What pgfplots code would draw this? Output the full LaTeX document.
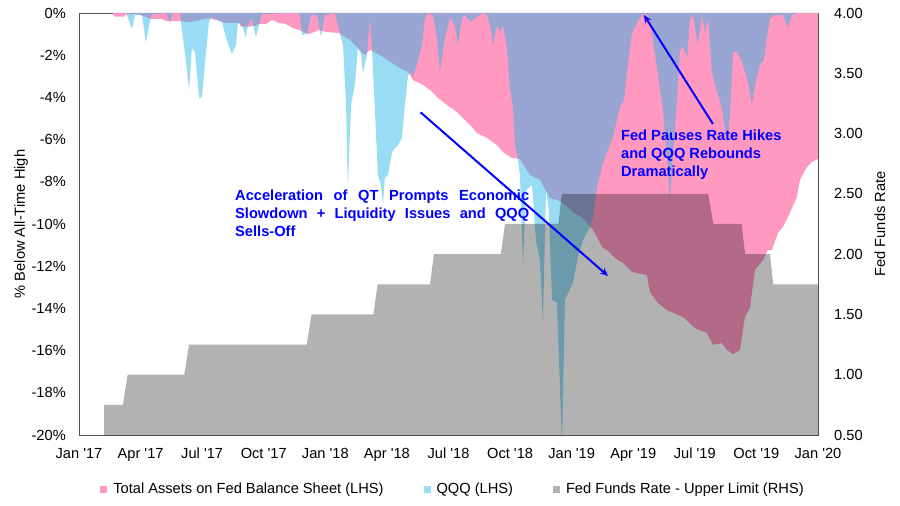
\documentclass[border=0pt]{standalone}
\usepackage{fontspec}
\setmainfont{Liberation Sans}
\usepackage{pgfplots}
\pgfplotsset{compat=1.18}
\usetikzlibrary{arrows.meta}
\definecolor{pinkc}{RGB}{255,153,192}
\definecolor{qqqc}{RGB}{29,180,233}
\definecolor{annot}{RGB}{0,0,255}
\definecolor{axc}{RGB}{80,80,80}
\newcommand{\fs}{\fontsize{14.7}{18}\selectfont}
\begin{document}
\begin{tikzpicture}
\useasboundingbox (-79bp,-71bp) rectangle (821bp,435bp);
\pgfplotsset{
  base/.style={scale only axis, width=739bp, height=422bp, at={(0,0)}, anchor=south west,
    xmin=0, xmax=36, font=\fs, tick label style={font=\fs}, label style={font=\fs},
    major tick length=0pt, axis line style={axc, line width=0.8bp},
    /pgf/number format/assume math mode=true,
    legend image code/.code={\fill[##1] (0bp,-3.5bp) rectangle (7bp,3.5bp);}},
}
\begin{axis}[base, ymin=-20, ymax=0,
  ytick={-20,-18,...,0},
  yticklabels={-20\%,-18\%,-16\%,-14\%,-12\%,-10\%,-8\%,-6\%,-4\%,-2\%,0\%},
  xtick={0,3,...,36},
  xticklabels={Jan \textquotesingle17,Apr \textquotesingle17,Jul \textquotesingle17,Oct \textquotesingle17,Jan \textquotesingle18,Apr \textquotesingle18,Jul \textquotesingle18,Oct \textquotesingle18,Jan \textquotesingle19,Apr \textquotesingle19,Jul \textquotesingle19,Oct \textquotesingle19,Jan \textquotesingle20},
  xticklabel style={inner sep=0pt, yshift=-13bp, anchor=north},
  yticklabel style={inner sep=0pt, xshift=-13bp, anchor=east},
  ytick pos=left, xtick pos=bottom,
  ylabel={\% Below All-Time High},
  ylabel style={at={(axis description cs:-0.0785,0.5)}, anchor=center},
]
\addplot[fill=pinkc, draw=none] coordinates {
(1.66,0)(1.70,-0.17)(2.19,-0.17)(2.29,-0.06)(2.92,-0.06)(3.51,-0.28)(4.04,-0.28)(4.24,-0.38)(4.87,-0.38)(5.41,-0.43)(5.89,-0.33)(6.33,-0.24)(6.67,-0.33)(7.16,-0.47)(7.79,-0.47)(7.89,-0.65)(8.28,-0.65)(8.62,-0.60)(8.77,-0.52)(9.11,-0.52)(9.40,-0.33)(9.74,-0.47)(10.08,-0.52)(10.38,-0.70)(10.72,-0.81)(11.20,-1.00)(11.69,-0.81)(12.03,-0.90)(12.66,-0.95)(13.20,-1.28)(13.59,-1.66)(13.93,-1.99)(14.17,-1.75)(14.66,-1.99)(15.15,-2.32)(15.64,-2.61)(16.03,-2.80)(16.27,-3.18)(16.76,-3.41)(17.10,-3.65)(17.44,-3.98)(17.92,-4.36)(18.41,-4.69)(18.70,-4.98)(19.05,-5.31)(19.39,-5.69)(19.87,-5.92)(20.36,-6.26)(20.65,-6.59)(21.09,-6.87)(21.48,-6.92)(21.97,-7.68)(22.45,-7.91)(22.94,-8.77)(23.28,-8.86)(23.57,-9.00)(24.06,-9.43)(24.55,-9.72)(25.04,-10.28)(25.52,-11.14)(25.72,-11.23)(26.11,-11.61)(26.50,-11.85)(26.94,-12.27)(27.67,-12.42)(27.81,-13.22)(28.20,-13.74)(28.64,-14.08)(29.42,-14.41)(30.00,-14.93)(30.59,-15.17)(30.88,-15.73)(31.32,-15.64)(31.56,-15.97)(31.86,-16.16)(32.20,-15.97)(32.44,-14.41)(32.68,-13.98)(32.93,-12.18)(33.32,-11.71)(33.56,-11.23)(33.75,-11.23)(34.05,-10.43)(34.29,-10.14)(34.63,-9.48)(34.97,-8.72)(35.12,-7.91)(35.46,-7.30)(35.70,-7.06)(36.00,-6.92)
} \closedcycle;
\addplot[fill=qqqc, fill opacity=0.45, draw=none] coordinates {
(2.30,0)(2.58,-0.76)(2.73,-0.09)(3.07,-0.10)(3.26,-1.42)(3.51,-0.09)(4.24,0)(4.43,-0.47)(4.58,0)(4.92,0)(4.97,-0.47)(5.21,-2.32)(5.36,-3.65)(5.50,-1.66)(5.65,-1.85)(5.85,-4.03)(5.99,-3.98)(6.19,-1.85)(6.33,-0.43)(6.48,-0.19)(6.97,-0.43)(7.16,-1.18)(7.45,-1.94)(7.65,-1.52)(7.74,-0.47)(7.94,-0.57)(8.13,-1.18)(8.23,-0.57)(8.38,-0.24)(8.48,-0.57)(8.62,-1.14)(8.77,-0.57)(8.91,-0.05)(10.67,0)(10.77,-0.10)(10.86,-1.04)(11.11,-1.00)(11.30,-0.10)(11.59,-0.10)(11.79,-1.14)(11.98,-0.10)(12.47,0)(12.71,-0.95)(12.86,-1.52)(13.01,-4.36)(13.10,-8.29)(13.25,-4.36)(13.44,-3.41)(13.59,-1.66)(13.74,-1.99)(13.83,-2.84)(14.03,-1.99)(14.17,-0.24)(14.27,-1.66)(14.42,-4.69)(14.56,-7.68)(14.71,-8.15)(14.81,-9.10)(14.90,-7.82)(15.05,-7.68)(15.25,-6.59)(15.39,-6.40)(15.54,-6.26)(15.73,-5.92)(15.88,-4.36)(16.03,-2.94)(16.17,-2.80)(16.27,-3.08)(16.41,-2.61)(16.71,-1.52)(16.85,-0.24)(17.00,0)(17.24,-0.10)(17.44,-1.18)(17.58,-2.80)(17.83,-1.18)(18.07,-0.24)(18.31,-0.57)(18.46,-1.52)(18.66,-0.24)(18.80,-0.10)(19.05,-0.43)(19.29,-0.24)(19.53,-0.10)(19.68,0)(19.87,-0.10)(20.02,-0.57)(20.17,-1.52)(20.36,-0.57)(20.51,-0.90)(20.65,-0.57)(20.85,-1.66)(20.99,-3.55)(21.14,-4.50)(21.24,-6.26)(21.38,-6.97)(21.48,-7.68)(21.63,-11.90)(21.77,-8.40)(22.07,-8.15)(22.26,-10.76)(22.45,-11.70)(22.60,-14.64)(22.75,-8.39)(22.89,-9.34)(23.04,-13.60)(23.28,-13.70)(23.53,-20.50)(23.67,-13.60)(24.06,-12.80)(24.31,-11.56)(24.55,-10.76)(24.89,-10.14)(25.04,-9.67)(25.23,-8.25)(25.52,-7.11)(26.01,-5.88)(26.35,-4.45)(26.55,-4.12)(26.69,-2.84)(26.94,-0.95)(27.18,-0.47)(27.42,-0.09)(27.62,0)(27.81,-0.33)(28.15,-2.56)(28.45,-4.60)(28.64,-6.82)(28.79,-8.86)(28.89,-7.30)(29.13,-4.12)(29.27,-1.75)(29.42,-1.61)(29.62,-2.13)(29.76,-0.33)(29.91,-0.09)(30.15,-1.52)(30.35,-0.09)(30.49,-0.90)(30.64,-0.19)(30.83,-2.80)(31.08,-3.74)(31.32,-4.50)(31.47,-5.45)(31.56,-6.26)(31.71,-4.83)(31.86,-1.85)(32.05,-1.85)(32.29,-2.32)(32.59,-3.27)(32.78,-4.36)(32.93,-3.41)(33.17,-2.46)(33.37,-2.23)(33.51,-1.18)(33.66,-0.24)(33.90,-0.10)(34.29,-0.10)(34.53,-0.71)(34.73,-0.10)(34.97,0)(36.00,0)
} \closedcycle;
\end{axis}
\begin{axis}[base, ymin=0.5, ymax=4,
  axis y line*=right, axis x line=none,
  ytick={0.5,1,1.5,2,2.5,3,3.5,4},
  yticklabels={0.50,1.00,1.50,2.00,2.50,3.00,3.50,4.00},
  yticklabel style={inner sep=0pt, xshift=16bp, anchor=west},
  ylabel={Fed Funds Rate},
  ylabel style={at={(axis description cs:1.0839,0.5)}, anchor=center},
  legend style={draw=none, fill=none, at={(axis description cs:0.5,0)}, anchor=center,
    yshift=-54bp, xshift=4.5bp, legend columns=3, font=\fs,
    /tikz/every odd column/.append style={column sep=4bp},
    /tikz/every even column/.append style={column sep=38bp}},
]
\addlegendimage{fill=pinkc, draw=none}
\addlegendentry{Total Assets on Fed Balance Sheet (LHS)}
\addlegendimage{fill=qqqc, fill opacity=0.45, draw=none}
\addlegendentry{QQQ (LHS)}
\addplot[fill=black, fill opacity=0.3, draw=none] coordinates {
(1.22,0.75)(2.14,0.75)(2.37,1.00)(5.13,1.00)(5.36,1.25)(11.09,1.25)(11.33,1.50)(14.34,1.50)(14.55,1.75)(17.10,1.75)(17.29,2.00)(20.55,2.00)(20.75,2.25)(23.35,2.25)(23.52,2.50)(30.65,2.50)(30.90,2.25)(32.28,2.25)(32.45,2.00)(33.66,2.00)(33.82,1.75)(36.00,1.75)
} \closedcycle;
\addlegendentry{Fed Funds Rate - Upper Limit (RHS)}
\draw[annot, line width=2bp, -{Stealth[length=8bp,width=7bp]}] (axis cs:16.64,3.176) -- (axis cs:25.77,1.8195);
\draw[annot, line width=2bp, -{Stealth[length=8bp,width=7bp]}] (axis cs:30.88,3.0795) -- (axis cs:27.52,3.984);
\node[anchor=west, align=left, inner sep=0pt, text=annot, font=\fs\bfseries] at (axis cs:7.60,2.341)
 {\makebox[294bp][l]{Acceleration\hfill of\hfill QT\hfill Prompts\hfill Economic}\\\makebox[294bp][l]{Slowdown\hfill +\hfill Liquidity\hfill Issues\hfill and\hfill QQQ}\\Sells-Off};
\node[anchor=west, align=left, inner sep=0pt, text=annot, font=\fs\bfseries] at (axis cs:26.40,2.822)
 {Fed Pauses Rate Hikes\\and QQQ Rebounds\\Dramatically};
\end{axis}
\end{tikzpicture}
\end{document}
